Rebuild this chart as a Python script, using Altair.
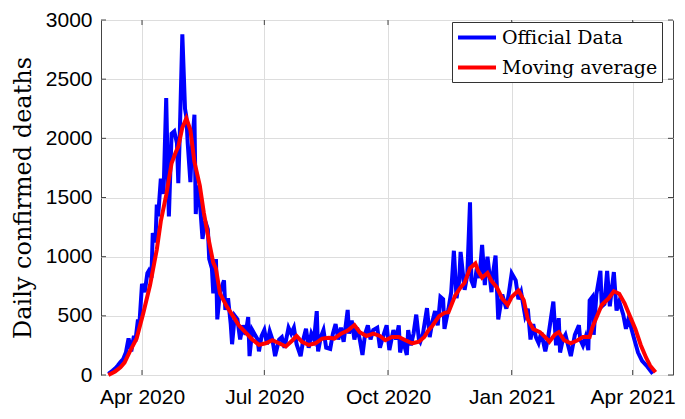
import altair as alt
import pandas as pd

# ---- data ----
official = [
    ("2020-03-07", 10), ("2020-03-10", 35), ("2020-03-12", 55), ("2020-03-14", 80),
    ("2020-03-16", 110), ("2020-03-18", 135), ("2020-03-20", 190), ("2020-03-22", 310),
    ("2020-03-24", 200), ("2020-03-26", 330), ("2020-03-27", 280), ("2020-03-29", 470),
    ("2020-03-30", 420), ("2020-04-01", 770), ("2020-04-03", 700), ("2020-04-05", 860),
    ("2020-04-06", 880), ("2020-04-08", 820), ("2020-04-09", 1200), ("2020-04-11", 1120),
    ("2020-04-12", 1440), ("2020-04-13", 1340), ("2020-04-15", 1660), ("2020-04-17", 1530),
    ("2020-04-19", 2340), ("2020-04-20", 1800), ("2020-04-21", 1340), ("2020-04-23", 2040),
    ("2020-04-25", 2060), ("2020-04-27", 1960), ("2020-04-28", 1620), ("2020-04-29", 1990),
    ("2020-05-01", 2880), ("2020-05-03", 2250), ("2020-05-04", 2180), ("2020-05-05", 1960),
    ("2020-05-07", 1630), ("2020-05-08", 1900), ("2020-05-10", 2200), ("2020-05-11", 1360),
    ("2020-05-12", 1600), ("2020-05-14", 1470), ("2020-05-16", 1150), ("2020-05-18", 1300),
    ("2020-05-20", 1230), ("2020-05-21", 980), ("2020-05-23", 900), ("2020-05-24", 690),
    ("2020-05-26", 980), ("2020-05-27", 470), ("2020-05-29", 700), ("2020-06-01", 800),
    ("2020-06-02", 550), ("2020-06-04", 650), ("2020-06-06", 430), ("2020-06-07", 260),
    ("2020-06-09", 500), ("2020-06-11", 470), ("2020-06-13", 300), ("2020-06-15", 420),
    ("2020-06-17", 340), ("2020-06-19", 490), ("2020-06-20", 160), ("2020-06-22", 380),
    ("2020-06-24", 340), ("2020-06-26", 300), ("2020-06-27", 200), ("2020-06-29", 330),
    ("2020-07-01", 380), ("2020-07-03", 260), ("2020-07-05", 370), ("2020-07-07", 300),
    ("2020-07-09", 160), ("2020-07-12", 300), ("2020-07-14", 320), ("2020-07-16", 230),
    ("2020-07-19", 400), ("2020-07-21", 350), ("2020-07-23", 400), ("2020-07-25", 260),
    ("2020-07-28", 160), ("2020-07-30", 300), ("2020-08-01", 390), ("2020-08-03", 230),
    ("2020-08-05", 350), ("2020-08-07", 300), ("2020-08-09", 540), ("2020-08-10", 200),
    ("2020-08-12", 320), ("2020-08-14", 380), ("2020-08-16", 230), ("2020-08-19", 220),
    ("2020-08-21", 350), ("2020-08-23", 430), ("2020-08-25", 300), ("2020-08-27", 400),
    ("2020-08-29", 280), ("2020-09-01", 550), ("2020-09-02", 350), ("2020-09-04", 460),
    ("2020-09-06", 300), ("2020-09-08", 400), ("2020-09-10", 300), ("2020-09-12", 170),
    ("2020-09-14", 350), ("2020-09-16", 420), ("2020-09-18", 300), ("2020-09-20", 380),
    ("2020-09-23", 400), ("2020-09-25", 230), ("2020-09-28", 350), ("2020-09-30", 420),
    ("2020-10-02", 210), ("2020-10-05", 380), ("2020-10-07", 300), ("2020-10-09", 420),
    ("2020-10-10", 190), ("2020-10-12", 300), ("2020-10-15", 170), ("2020-10-16", 380),
    ("2020-10-18", 250), ("2020-10-20", 350), ("2020-10-22", 510), ("2020-10-24", 300),
    ("2020-10-25", 280), ("2020-10-27", 350), ("2020-10-30", 565), ("2020-11-01", 320),
    ("2020-11-03", 450), ("2020-11-05", 540), ("2020-11-07", 420), ("2020-11-09", 660),
    ("2020-11-11", 640), ("2020-11-12", 390), ("2020-11-15", 560), ("2020-11-17", 700),
    ("2020-11-19", 1050), ("2020-11-21", 650), ("2020-11-23", 800), ("2020-11-24", 1040),
    ("2020-11-27", 720), ("2020-11-29", 850), ("2020-12-01", 1460), ("2020-12-02", 800),
    ("2020-12-04", 740), ("2020-12-06", 900), ("2020-12-08", 820), ("2020-12-10", 1100),
    ("2020-12-12", 760), ("2020-12-14", 1000), ("2020-12-17", 700), ("2020-12-18", 850),
    ("2020-12-20", 1010), ("2020-12-22", 470), ("2020-12-25", 680), ("2020-12-28", 560),
    ("2020-12-30", 700), ("2021-01-01", 860), ("2021-01-04", 800), ("2021-01-06", 640),
    ("2021-01-08", 700), ("2021-01-11", 500), ("2021-01-13", 560), ("2021-01-15", 300),
    ("2021-01-17", 430), ("2021-01-19", 320), ("2021-01-21", 270), ("2021-01-23", 360),
    ("2021-01-26", 200), ("2021-01-28", 310), ("2021-02-01", 620), ("2021-02-03", 250),
    ("2021-02-05", 480), ("2021-02-06", 190), ("2021-02-08", 300), ("2021-02-10", 340),
    ("2021-02-12", 250), ("2021-02-14", 160), ("2021-02-17", 340), ("2021-02-20", 420),
    ("2021-02-21", 300), ("2021-02-23", 250), ("2021-02-25", 320), ("2021-02-27", 210),
    ("2021-02-28", 630), ("2021-03-02", 660), ("2021-03-03", 340), ("2021-03-05", 680),
    ("2021-03-08", 880), ("2021-03-09", 580), ("2021-03-11", 600), ("2021-03-13", 880),
    ("2021-03-15", 580), ("2021-03-18", 870), ("2021-03-20", 545), ("2021-03-22", 620),
    ("2021-03-25", 510), ("2021-03-27", 390), ("2021-03-29", 480), ("2021-04-02", 310),
    ("2021-04-05", 190), ("2021-04-08", 120), ("2021-04-12", 70), ("2021-04-16", 10),
]

moving = [
    ("2020-03-07", 0), ("2020-03-12", 30), ("2020-03-16", 65), ("2020-03-19", 105),
    ("2020-03-23", 200), ("2020-03-28", 308), ("2020-04-02", 525), ("2020-04-07", 760),
    ("2020-04-12", 1060), ("2020-04-15", 1300), ("2020-04-19", 1520), ("2020-04-23", 1790),
    ("2020-04-26", 1880), ("2020-04-28", 1930), ("2020-05-01", 2090), ("2020-05-04", 2170),
    ("2020-05-07", 2070), ("2020-05-10", 1800), ("2020-05-14", 1600), ("2020-05-17", 1370),
    ("2020-05-21", 1120), ("2020-05-24", 950), ("2020-05-26", 900), ("2020-05-29", 690),
    ("2020-06-03", 580), ("2020-06-07", 510), ("2020-06-12", 420), ("2020-06-17", 360),
    ("2020-06-22", 300), ("2020-06-27", 255), ("2020-07-02", 268), ("2020-07-07", 294),
    ("2020-07-12", 268), ("2020-07-17", 241), ("2020-07-22", 294), ("2020-07-25", 330),
    ("2020-07-29", 281), ("2020-08-03", 254), ("2020-08-08", 268), ("2020-08-13", 308),
    ("2020-08-18", 315), ("2020-08-22", 308), ("2020-08-27", 349), ("2020-09-01", 376),
    ("2020-09-06", 422), ("2020-09-10", 362), ("2020-09-15", 330), ("2020-09-20", 349),
    ("2020-09-25", 330), ("2020-09-29", 294), ("2020-10-04", 322), ("2020-10-09", 322),
    ("2020-10-14", 294), ("2020-10-19", 268), ("2020-10-24", 281), ("2020-10-28", 322),
    ("2020-10-31", 376), ("2020-11-03", 416), ("2020-11-08", 497), ("2020-11-12", 525),
    ("2020-11-15", 530), ("2020-11-20", 673), ("2020-11-24", 740), ("2020-11-27", 780),
    ("2020-12-01", 903), ("2020-12-05", 943), ("2020-12-07", 880), ("2020-12-10", 822),
    ("2020-12-14", 862), ("2020-12-17", 795), ("2020-12-21", 740), ("2020-12-25", 646),
    ("2020-12-29", 592), ("2021-01-01", 659), ("2021-01-06", 714), ("2021-01-10", 633),
    ("2021-01-13", 470), ("2021-01-17", 389), ("2021-01-22", 362), ("2021-01-27", 308),
    ("2021-01-29", 281), ("2021-02-02", 340), ("2021-02-05", 362), ("2021-02-09", 294),
    ("2021-02-14", 268), ("2021-02-19", 294), ("2021-02-23", 322), ("2021-02-28", 322),
    ("2021-03-02", 403), ("2021-03-06", 511), ("2021-03-09", 592), ("2021-03-14", 646),
    ("2021-03-18", 708), ("2021-03-22", 687), ("2021-03-26", 606), ("2021-03-30", 497),
    ("2021-04-03", 389), ("2021-04-07", 254), ("2021-04-11", 146), ("2021-04-14", 79),
    ("2021-04-18", 24),
]

series_names = ["Official Data", "Moving average"]
series_colors = ["#0000FF", "#FF0000"]
y_ticks = [0, 500, 1000, 1500, 2000, 2500, 3000]
x_ticks = ["2020-04-01", "2020-07-01", "2020-10-01", "2021-01-01", "2021-04-01"]
x_domain = ["2020-03-01T12:00:00", "2021-05-01T00:00:00"]

# ---- tables ----
df_off = pd.DataFrame(official, columns=["date", "deaths"])
df_off["date"] = pd.to_datetime(df_off["date"])
df_off["series"] = series_names[0]
df_mov = pd.DataFrame(moving, columns=["date", "deaths"])
df_mov["date"] = pd.to_datetime(df_mov["date"])
df_mov["series"] = series_names[1]
df_yt = pd.DataFrame({"deaths": y_ticks})
df_xt = pd.DataFrame({"date": pd.to_datetime(x_ticks)})


def dt(s):
    t = pd.Timestamp(s)
    return alt.DateTime(year=t.year, month=t.month, date=t.day, hours=t.hour)


W, H = 572, 355

x_enc = alt.X(
    "date:T",
    scale=alt.Scale(domain=[dt(d) for d in x_domain], nice=False),
    axis=alt.Axis(values=[dt(d) for d in x_ticks], format="%b %Y", title=None,
                  labelPadding=11, labelFlush=False, labelOverlap=False),
)
y_enc = alt.Y(
    "deaths:Q",
    scale=alt.Scale(domain=[0, 3000], nice=False, zero=True),
    axis=alt.Axis(values=y_ticks, format="d", title="Daily confirmed deaths", labelPadding=9,
                  titleFont="DejaVu Serif", titleFontSize=24, titleFontWeight="normal",
                  titleColor="black", titlePadding=10),
)
color_enc = alt.Color(
    "series:N",
    scale=alt.Scale(domain=series_names, range=series_colors),
    legend=alt.Legend(
        title=None, orient="none", legendX=351, legendY=2,
        fillColor="white", strokeColor="#333333", padding=4,
        symbolType="M-1,0H3", symbolSize=361, symbolStrokeWidth=4,
        labelFont="DejaVu Serif", labelFontSize=19, labelColor="black",
        labelOffset=23, rowPadding=8,
    ),
)

blue = alt.Chart(df_off).mark_line(strokeWidth=4).encode(x=x_enc, y=y_enc, color=color_enc)
red = alt.Chart(df_mov).mark_line(strokeWidth=4).encode(x=x_enc, y=y_enc, color=color_enc)

tick_col = "#444444"
left_t = alt.Chart(df_yt).mark_rule(color=tick_col).encode(y=y_enc, x=alt.value(0), x2=alt.value(5))
right_t = alt.Chart(df_yt).mark_rule(color=tick_col).encode(y=y_enc, x=alt.value(W - 5), x2=alt.value(W))
bot_t = alt.Chart(df_xt).mark_rule(color=tick_col).encode(x=x_enc, y=alt.value(H - 5), y2=alt.value(H))
top_t = alt.Chart(df_xt).mark_rule(color=tick_col).encode(x=x_enc, y=alt.value(0), y2=alt.value(5))

chart = (
    alt.layer(blue, red, left_t, right_t, bot_t, top_t)
    .properties(width=W, height=H, autosize="none",
                padding={"left": 93, "top": 12, "right": 4, "bottom": 35})
    .configure_view(stroke="#444444", strokeWidth=1)
    .configure_axis(grid=True, gridColor="#DDDDDD", domain=False, ticks=False,
                    labelFont="Liberation Sans", labelFontSize=21, labelColor="black")
)

chart.save("out.html", embed_options={"renderer": "svg", "actions": False})
